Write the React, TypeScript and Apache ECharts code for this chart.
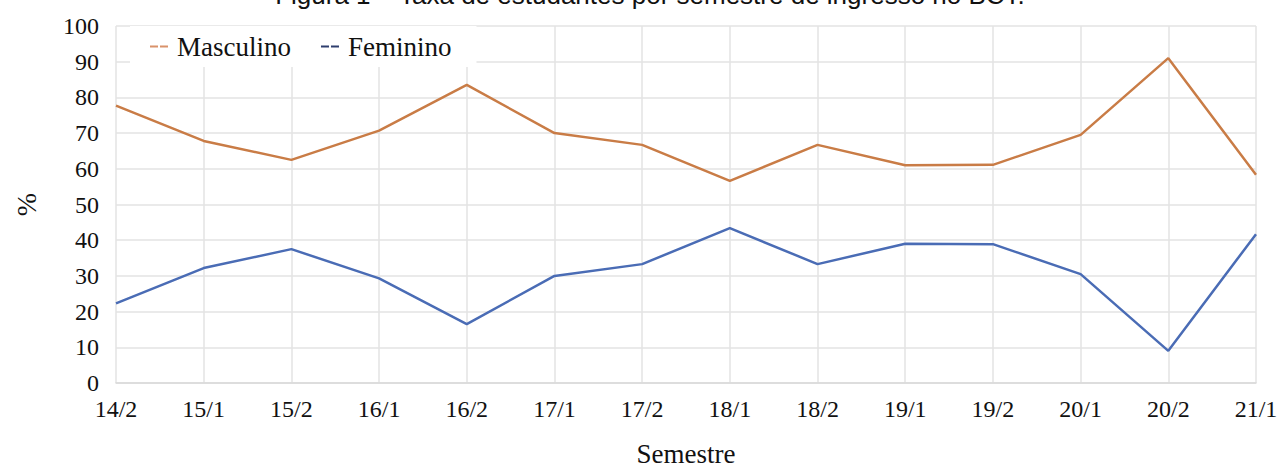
import React, { useEffect, useRef } from "react";
import * as echarts from "echarts";

const semestres = ["14/2", "15/1", "15/2", "16/1", "16/2", "17/1", "17/2", "18/1", "18/2", "19/1", "19/2", "20/1", "20/2", "21/1"];
const masculino = [77.7, 67.8, 62.5, 70.7, 83.5, 70.0, 66.7, 56.6, 66.7, 61.0, 61.1, 69.5, 91.0, 58.3];
const feminino = [22.3, 32.2, 37.5, 29.3, 16.5, 30.0, 33.3, 43.4, 33.3, 39.0, 38.9, 30.5, 9.0, 41.7];
const yTicks = { min: 0, max: 100, interval: 10 };
const titleText = "Figura 1 – Taxa de estudantes por semestre de ingresso no BCT.";

const SERIF = "Liberation Serif";
const SANS = "Liberation Sans";
const ORANGE = "#C97C46";
const BLUE = "#4A6CB5";
const DASH_ICON = "path://M0,0H8V2H0Z M10,0H18V2H10Z";

export default function App() {
  const ref = useRef<HTMLDivElement>(null);
  useEffect(() => {
    document.body.style.margin = "0";
    const chart = echarts.init(ref.current!, null, { renderer: "svg" });
    chart.setOption({
      animation: false,
      backgroundColor: "#ffffff",
      grid: { left: 116, right: 22, top: 26, bottom: 85, containLabel: false, outerBoundsMode: "none" },
      legend: {
        left: 130,
        top: 26,
        padding: [7, 25, 7, 20],
        backgroundColor: "#ffffff",
        itemWidth: 18,
        itemHeight: 2,
        itemGap: 30,
        textStyle: { fontFamily: SERIF, fontSize: 27, color: "#111", padding: [0, 0, 0, 4] },
        data: [
          { name: "Masculino", icon: DASH_ICON, itemStyle: { color: "#D9926A" } },
          { name: "Feminino", icon: DASH_ICON, itemStyle: { color: "#2E3E6E" } },
        ],
      },
      graphic: [
        {
          type: "text",
          x: 650,
          y: 8,
          style: {
            text: titleText,
            fontFamily: SANS,
            fontSize: 26,
            fill: "#111",
            align: "center",
            verticalAlign: "bottom",
          },
        },
      ],
      xAxis: {
        type: "category",
        data: semestres,
        boundaryGap: false,
        name: "Semestre",
        nameLocation: "middle",
        nameGap: 57,
        nameTextStyle: { fontFamily: SERIF, fontSize: 27, color: "#111" },
        axisLine: { show: true, lineStyle: { color: "#d9d9d9", width: 1.5 } },
        axisTick: { show: false },
        axisLabel: { fontFamily: SERIF, fontSize: 24, color: "#111", margin: 14 },
        splitLine: { show: true, lineStyle: { color: "#e3e3e3", width: 1.5 } },
      },
      yAxis: {
        type: "value",
        min: yTicks.min,
        max: yTicks.max,
        interval: yTicks.interval,
        name: "%",
        nameLocation: "middle",
        nameRotate: 90,
        nameGap: 76,
        nameTextStyle: { fontFamily: SERIF, fontSize: 28, color: "#111" },
        axisLine: { show: false },
        axisTick: { show: false },
        axisLabel: { fontFamily: SERIF, fontSize: 24, color: "#111", margin: 17 },
        splitLine: { show: true, lineStyle: { color: "#e3e3e3", width: 1.5 } },
      },
      series: [
        {
          name: "Masculino",
          type: "line",
          data: masculino,
          symbol: "none",
          lineStyle: { color: ORANGE, width: 2.5 },
          itemStyle: { color: ORANGE },
        },
        {
          name: "Feminino",
          type: "line",
          data: feminino,
          symbol: "none",
          lineStyle: { color: BLUE, width: 2.5 },
          itemStyle: { color: BLUE },
        },
      ],
    });
    return () => chart.dispose();
  }, []);
  return <div ref={ref} style={{ position: "absolute", left: 0, top: 0, width: 1278, height: 468 }} />;
}
